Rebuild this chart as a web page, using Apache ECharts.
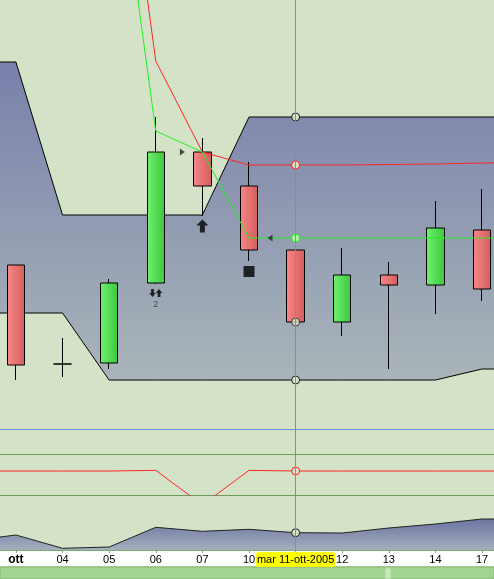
<!DOCTYPE html>
<html>
<head>
<meta charset="utf-8">
<script src="https://cdn.jsdelivr.net/npm/echarts@6/dist/echarts.min.js"></script>
<style>
  html, body { margin: 0; padding: 0; background: #d4e3c8; }
  #chart { width: 494px; height: 579px; }
</style>
</head>
<body>
<div id="chart"></div>
<script>
// one hidden day on each side so the bands run off the edges
const dayBefore = '30';
const days = ['ott', '04', '05', '06', '07', '10', '11', '12', '13', '14', '17'];
const dayAfter = '18';
const categories = [dayBefore, ...days, dayAfter];
const crossDay = '11';
const crossDate = 'mar 11-ott-2005';

// candles, one per day
const opens  = [23.28, 21.30, 21.32, 22.92, 25.54, 24.86, 23.58, 22.14, 23.08, 22.88, 23.98];
const closes = [21.28, 21.30, 22.92, 25.54, 24.86, 23.58, 22.14, 23.08, 22.88, 24.02, 22.80];
const lows   = [20.98, 21.04, 21.20, 22.90, 24.26, 23.36, 22.14, 21.86, 21.20, 22.30, 22.56];
const highs  = [23.28, 21.82, 23.00, 26.24, 25.82, 25.34, 23.68, 23.62, 23.34, 24.56, 24.80];

// band + stops, one per category
const cloudTop    = [27.34, 27.34, 24.28, 24.28, 24.28, 24.28, 26.24, 26.24, 26.24, 26.24, 26.24, 26.24, 26.24];
const cloudBottom = [22.32, 22.32, 22.32, 20.98, 20.98, 20.98, 20.98, 20.98, 20.98, 20.98, 20.98, 21.20, 21.20];
const redStop   = ['-', '-', '-', 34.26, 27.36, 25.54, 25.28, 25.28, 25.28, 25.29, 25.30, 25.32, 25.33];
const greenStop = ['-', '-', '-', 32.80, 25.96, 25.54, 23.82, 23.82, 23.82, 23.82, 23.82, 23.82, 23.82];

// lower panels
const oscValues = [35.1, 35.1, 35.1, 35.1, 36.1, -14.6, 36.1, 35.1, 35.1, 35.1, 35.1, 35.1, 35.1];
const volumes   = [9000, 15000, 1700, 3000, 22700, 18700, 20700, 17300, 17000, 22000, 26000, 31000, 31000];

// signals [day, price, text]
const buyArrows    = [['07', 24.06]];
const exitSquares  = [['10', 23.15]];
const rightMarks   = [['07', 25.54]];
const leftMarks    = [['10', 23.82]];
const crossSignals = [['06', 22.72, '2']];

const bg = '#d4e3c8';
const font = 'Liberation Sans, Arial, sans-serif';
const crossIdx = categories.indexOf(crossDay);

const chart = echarts.init(document.getElementById('chart'));

const greenGrad = new echarts.graphic.LinearGradient(0, 0, 1, 0, [
  { offset: 0, color: '#6ef26e' }, { offset: 1, color: '#3ec63e' }
]);
const redGrad = new echarts.graphic.LinearGradient(0, 0, 1, 0, [
  { offset: 0, color: '#f78787' }, { offset: 1, color: '#d45d5d' }
]);
const cloudGrad = new echarts.graphic.LinearGradient(0, 60, 0, 385, [
  { offset: 0, color: '#7880ab' }, { offset: 1, color: '#aab6b9' }
], true);
const volGrad = new echarts.graphic.LinearGradient(0, 515, 0, 550, [
  { offset: 0, color: '#646c9c' }, { offset: 1, color: '#a4afbd' }
], true);

function crossSymbol(v, p) { return p.dataIndex === crossIdx ? 'circle' : 'none'; }

function pointer(showLabel) {
  return {
    show: true, type: 'line', value: crossIdx, status: 'show', snap: false,
    triggerTooltip: false,
    lineStyle: { color: '#6a8ed8', width: 1, type: 'solid' },
    handle: { show: false },
    label: {
      show: showLabel, formatter: () => crossDate,
      backgroundColor: '#ffff00', color: '#000', fontSize: 11, fontFamily: font,
      padding: [2, 1], margin: 2
    }
  };
}

const gridSide = { left: -54, right: -58, outerBoundsMode: 'none', containLabel: false };
function xAx(grid, extra) {
  return Object.assign({
    type: 'category', gridIndex: grid, data: categories, boundaryGap: true,
    axisLine: { show: false }, axisTick: { show: false }, axisLabel: { show: false },
    splitLine: { show: false }
  }, extra);
}

const option = {
  animation: false,
  backgroundColor: bg,
  axisPointer: { triggerOn: 'none' },
  grid: [
    Object.assign({ top: 0, height: 429 }, gridSide),
    Object.assign({ top: 429, height: 66 }, gridSide),
    Object.assign({ top: 495, height: 55 }, gridSide),
    Object.assign({ top: 550, height: 17, show: true, backgroundColor: '#ffffff',
      borderColor: '#7aab6a', borderWidth: 1 }, gridSide)
  ],
  xAxis: [
    xAx(0, { axisPointer: pointer(false) }),
    xAx(1, { axisPointer: pointer(false) }),
    xAx(2, {
      axisPointer: pointer(true),
      axisLine: { show: true, lineStyle: { color: '#7aab6a' } },
      axisTick: { show: true, alignWithLabel: true, length: 3, lineStyle: { color: '#7aab6a' } },
      axisLabel: {
        show: true, interval: 0, margin: 4, color: '#000', fontSize: 11, fontFamily: font,
        formatter: v => v === 'ott' ? '{b|ott}' : v,
        rich: { b: { fontWeight: 'bold', fontSize: 12, fontFamily: font, color: '#000' } }
      },
      z: 5
    }),
    xAx(3, { show: false })
  ],
  yAxis: [
    { type: 'value', gridIndex: 0, min: 20, max: 28.58, show: false },
    {
      type: 'value', gridIndex: 1, min: 0, max: 96.6, interval: 60,
      axisLine: { show: false }, axisTick: { show: false }, axisLabel: { show: false },
      splitLine: { show: true, lineStyle: { color: ['#6e9a5e', '#6e9a5e', '#6a8ed8'], width: 1 } }
    },
    { type: 'value', gridIndex: 2, min: 0, max: 55000, show: false },
    { type: 'value', gridIndex: 3, show: false }
  ],
  graphic: [
    { type: 'rect', shape: { x: 0, y: 567, width: 494, height: 12 },
      style: { fill: '#a0d490', stroke: '#84bb74', lineWidth: 1 }, z: 10 },
    { type: 'rect', shape: { x: 385, y: 568, width: 6, height: 11 },
      style: { fill: '#c6e8b8', stroke: '#a8d49a', lineWidth: 1 }, z: 11 }
  ],
  series: [
    {
      name: 'cloudBottom', type: 'line', stack: 'cloud', data: cloudBottom,
      lineStyle: { color: '#000', width: 1 },
      symbol: crossSymbol, symbolSize: 8, showAllSymbol: true,
      itemStyle: { color: bg, borderColor: '#222', borderWidth: 1 }, z: 3
    },
    {
      name: 'cloud', type: 'line', stack: 'cloud',
      data: cloudTop.map((v, i) => +(v - cloudBottom[i]).toFixed(2)),
      areaStyle: { color: cloudGrad, opacity: 1 },
      lineStyle: { color: '#000', width: 1 },
      symbol: crossSymbol, symbolSize: 8, showAllSymbol: true,
      itemStyle: { color: bg, borderColor: '#222', borderWidth: 1 }, z: 2
    },
    {
      name: 'candles', type: 'candlestick', barWidth: 18,
      data: ['-', ...days.map((d, i) => [opens[i], closes[i], lows[i], highs[i]]), '-'],
      itemStyle: {
        color: greenGrad, color0: redGrad,
        borderColor: '#000', borderColor0: '#000', borderColorDoji: '#000', borderWidth: 1
      },
      z: 4
    },
    {
      name: 'red', type: 'line', data: redStop,
      lineStyle: { color: '#ff2424', width: 1 },
      symbol: crossSymbol, symbolSize: 8, showAllSymbol: true,
      itemStyle: { color: bg, borderColor: '#ff2424', borderWidth: 1 }, z: 5
    },
    {
      name: 'green', type: 'line', data: greenStop,
      lineStyle: { color: '#22ee22', width: 1 },
      symbol: crossSymbol, symbolSize: 8, showAllSymbol: true,
      itemStyle: { color: '#b4f4a4', borderColor: '#22ee22', borderWidth: 1 }, z: 5
    },
    {
      name: 'close', type: 'scatter',
      data: [[crossDay, closes[days.indexOf(crossDay)]]],
      symbol: 'circle', symbolSize: 8,
      itemStyle: { color: bg, borderColor: '#222', borderWidth: 1 }, z: 6
    },
    {
      name: 'buy', type: 'scatter', data: buyArrows,
      symbol: 'path://M6,0L12,6L8.5,6L8.5,13L3.5,13L3.5,6L0,6Z', symbolSize: [12, 13],
      itemStyle: { color: '#000' }, z: 6
    },
    {
      name: 'exit', type: 'scatter', data: exitSquares,
      symbol: 'rect', symbolSize: 11, itemStyle: { color: '#000' }, z: 6
    },
    {
      name: 'markRight', type: 'scatter', data: rightMarks,
      symbol: 'triangle', symbolSize: [7, 5], symbolRotate: -90, symbolOffset: [-20, 0],
      itemStyle: { color: '#222' }, z: 6
    },
    {
      name: 'markLeft', type: 'scatter', data: leftMarks,
      symbol: 'triangle', symbolSize: [7, 5], symbolRotate: 90, symbolOffset: [21, 0],
      itemStyle: { color: '#222' }, z: 6
    },
    {
      name: 'cross', type: 'scatter', data: crossSignals,
      symbol: 'path://M2,0L5,0L5,4L7,4L3.5,8L0,4L2,4ZM10.5,0L14,4L12,4L12,8L9,8L9,4L7,4Z',
      symbolSize: [13, 8],
      itemStyle: { color: '#000' },
      label: { show: true, position: 'bottom', distance: 3, formatter: p => p.data[2],
        fontSize: 9, color: '#333', fontFamily: font },
      z: 6
    },
    {
      name: 'osc', type: 'line', xAxisIndex: 1, yAxisIndex: 1, data: oscValues,
      lineStyle: { color: '#ff2424', width: 1 },
      symbol: crossSymbol, symbolSize: 8, showAllSymbol: true,
      itemStyle: { color: bg, borderColor: '#ff2424', borderWidth: 1 }, z: 5
    },
    {
      name: 'volume', type: 'line', xAxisIndex: 2, yAxisIndex: 2, data: volumes,
      lineStyle: { color: '#222', width: 1 },
      areaStyle: { color: volGrad, opacity: 1 },
      symbol: crossSymbol, symbolSize: 8, showAllSymbol: true,
      itemStyle: { color: bg, borderColor: '#222', borderWidth: 1 }, z: 5
    }
  ]
};

chart.setOption(option);
</script>
</body>
</html>
